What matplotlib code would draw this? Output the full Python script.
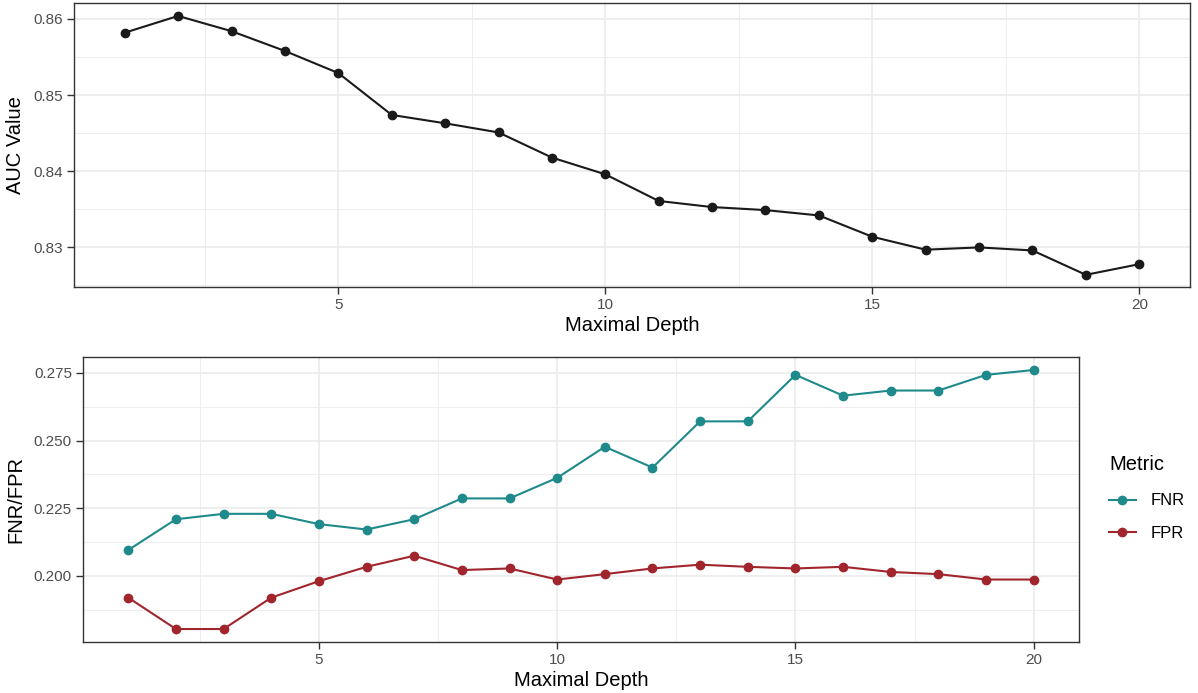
import matplotlib
matplotlib.use("Agg")
import matplotlib.pyplot as plt
from matplotlib.ticker import FixedLocator

plt.rcParams['font.family'] = ['Liberation Sans', 'DejaVu Sans']

depth = list(range(1, 21))
auc = [0.8582, 0.8604, 0.8584, 0.8558, 0.8529, 0.8474, 0.8463, 0.8451, 0.8418, 0.8396,
       0.8361, 0.8353, 0.8349, 0.8342, 0.8314, 0.8297, 0.8300, 0.8296, 0.8264, 0.8278]
fnr = [0.2095, 0.2209, 0.2229, 0.2229, 0.2191, 0.2171, 0.2209, 0.2286, 0.2286, 0.2362,
       0.2477, 0.2400, 0.2571, 0.2571, 0.2743, 0.2666, 0.2685, 0.2685, 0.2743, 0.2761]
fpr = [0.1919, 0.1803, 0.1803, 0.1919, 0.1980, 0.2033, 0.2074, 0.2021, 0.2027, 0.1986,
       0.2006, 0.2027, 0.2041, 0.2033, 0.2027, 0.2033, 0.2014, 0.2006, 0.1986, 0.1986]
x_ticks = [5, 10, 15, 20]
auc_ticks = [0.83, 0.84, 0.85, 0.86]
rate_ticks = [0.200, 0.225, 0.250, 0.275]
metric_names = ['FNR', 'FPR']
metric_colors = ['#1f8a8b', '#a1252c']

W, H = 1198, 693
fig = plt.figure(figsize=(W / 100, H / 100), dpi=100)

def box(l, t, r, b):
    return [l / W, 1 - b / H, (r - l) / W, (b - t) / H]

def style(ax, yticks, yfmt, ystep):
    ax.set_facecolor('white')
    for s in ax.spines.values():
        s.set_color('#333333')
        s.set_linewidth(1.0)
    ax.xaxis.set_major_locator(FixedLocator(x_ticks))
    ax.xaxis.set_minor_locator(FixedLocator([2.5, 7.5, 12.5, 17.5]))
    ax.yaxis.set_major_locator(FixedLocator(yticks))
    minors = [yticks[0] - ystep / 2] + [v + ystep / 2 for v in yticks]
    ax.yaxis.set_minor_locator(FixedLocator(minors))
    ax.set_yticklabels([yfmt.format(v) for v in yticks])
    ax.grid(which='major', color='#EBEBEB', linewidth=1.2, zorder=0)
    ax.grid(which='minor', color='#EBEBEB', linewidth=0.6, zorder=0)
    ax.tick_params(which='major', length=5, width=1.0, color='#333333',
                   labelcolor='#4D4D4D', labelsize=11, pad=3)
    ax.tick_params(which='minor', length=0)
    ax.set_axisbelow(True)
    ax.set_xlim(0.05, 20.95)

ax1 = fig.add_axes(box(74, 3, 1190, 287))
style(ax1, auc_ticks, '{:.2f}', 0.01)
ax1.set_ylim(0.8248, 0.8621)
ax1.plot(depth, auc, color='#1a1a1a', linewidth=1.5, marker='o', markersize=6, zorder=3)
ax1.set_xlabel('Maximal Depth', fontsize=14.5, labelpad=3)
ax1.set_ylabel('AUC Value', fontsize=14.5, labelpad=6)

ax2 = fig.add_axes(box(83, 357, 1079, 642))
style(ax2, rate_ticks, '{:.3f}', 0.025)
ax2.set_ylim(0.1755, 0.2809)
for vals, name, col in zip([fnr, fpr], metric_names, metric_colors):
    ax2.plot(depth, vals, color=col, linewidth=1.5, marker='o', markersize=6,
             label=name, zorder=3)
ax2.set_xlabel('Maximal Depth', fontsize=14.5, labelpad=3)
ax2.set_ylabel('FNR/FPR', fontsize=14.5, labelpad=6)

leg = ax2.legend(title='Metric', loc='upper left', bbox_to_anchor=(1109 / W, 1 - 455 / H),
                 bbox_transform=fig.transFigure, frameon=False, fontsize=12,
                 title_fontsize=14.5, handlelength=1.6, labelspacing=1.05,
                 handletextpad=0.9, borderaxespad=0, borderpad=0)
leg._legend_box.align = 'left'
leg._legend_box.sep = 14

fig.savefig('out.png', dpi=100, facecolor='white')
